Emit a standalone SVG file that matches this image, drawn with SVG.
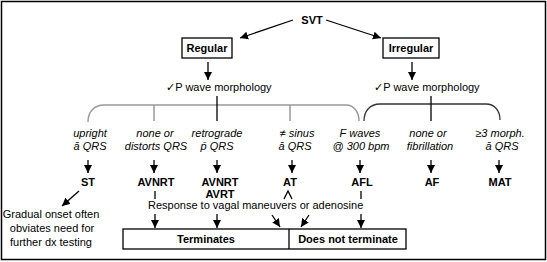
<svg xmlns="http://www.w3.org/2000/svg" width="547" height="262" viewBox="0 0 547 262">
<defs>
<marker id="ah" viewBox="0 0 10 10" refX="10" refY="5" markerUnits="userSpaceOnUse" markerWidth="8" markerHeight="9" orient="auto">
<path d="M0,0 L10,5 L0,10 z" fill="#000"/>
</marker>
</defs>
<style>
text{font-family:"Liberation Sans","DejaVu Sans",Arial,sans-serif;font-size:11px;fill:#000}
.b{font-weight:bold;text-anchor:middle}
.i{font-style:italic;text-anchor:middle}
.m{text-anchor:middle}
.ln{stroke:#000;stroke-width:1.3;fill:none}
.ar{stroke:#000;stroke-width:1.3;fill:none;marker-end:url(#ah)}
.box{fill:#fff;stroke:#000;stroke-width:1.3}
</style>
<rect x="1.5" y="1.5" width="544" height="258" fill="#fff" stroke="#000" stroke-width="1.5"/>

<g id="connectors">
<path class="ar" d="M293,20 L240,38"/>
<path class="ar" d="M326,20 L381,38"/>
<path class="ar" d="M208,62 L208,80"/>
<path class="ar" d="M412,62 L412,80"/>
<path d="M88,122 C88,112 94,105 104,105 L346,105 C354,105 359,112 359,121" fill="none" stroke="#999" stroke-width="1.5"/>
<path d="M154,105 V121 M290,105 V121" fill="none" stroke="#999" stroke-width="1.5"/>
<path class="ln" d="M217,96 V121"/>
<path d="M364,121 C364,111 370,104 380,104 L486,104 C494,104 500,110 500,120" fill="none" stroke="#333" stroke-width="1.3"/>
<path class="ln" d="M431,96 V121"/>
<path class="ar" d="M88,160 V173"/>
<path class="ar" d="M154,160 V173"/>
<path class="ar" d="M217,160 V173"/>
<path class="ar" d="M292,160 V173"/>
<path class="ar" d="M360,160 V173"/>
<path class="ar" d="M431,160 V173"/>
<path class="ar" d="M499,160 V173"/>
<path class="ar" d="M79,191 L62,206"/>
<path class="ln" d="M155,191 V199"/>
<path class="ln" d="M284,199 L288,191 L292,199"/>
<path class="ln" d="M361,191 V199"/>
<path class="ar" d="M155,214 V228"/>
<path class="ar" d="M217,214 V228"/>
<path class="ar" d="M272,215 L280,227"/>
<path class="ar" d="M309,215 L301,227"/>
<path class="ar" d="M361,214 V228"/>
</g>

<g id="svt"><text class="b" x="312" y="24">SVT</text></g>
<g id="regular"><rect class="box" x="182" y="38" width="50" height="20"/><text class="b" x="207" y="52">Regular</text></g>
<g id="irregular"><rect class="box" x="383" y="38" width="56" height="20"/><text class="b" x="411" y="52">Irregular</text></g>
<g id="pwave-left"><text x="166" y="91">✓P wave morphology</text></g>
<g id="pwave-right"><text x="374" y="91">✓P wave morphology</text></g>

<g id="c-upright"><text class="i" x="90" y="137">upright</text><text class="i" x="90" y="150">ā QRS</text></g>
<g id="c-none"><text class="i" x="155" y="137">none or</text><text class="i" x="156" y="150">distorts QRS</text></g>
<g id="c-retro"><text class="i" x="217" y="137">retrograde</text><text class="i" x="217" y="150">p̄ QRS</text></g>
<g id="c-sinus"><text class="i" x="297" y="137">≠ sinus</text><text class="i" x="295" y="150">ā QRS</text></g>
<g id="c-fwaves"><text class="i" x="360" y="137">F waves</text><text class="i" x="361" y="150">@ 300 bpm</text></g>
<g id="c-fib"><text class="i" x="428" y="137">none or</text><text class="i" x="430" y="150">fibrillation</text></g>
<g id="c-morph"><text class="i" x="500" y="137">≥3 morph.</text><text class="i" x="502" y="150">ā QRS</text></g>

<g id="st"><text class="b" x="88" y="186">ST</text></g>
<g id="avnrt1"><text class="b" x="156" y="186">AVNRT</text></g>
<g id="avnrt2"><text class="b" x="220" y="186">AVNRT</text><text class="b" x="220" y="198">AVRT</text></g>
<g id="at"><text class="b" x="290" y="186">AT</text></g>
<g id="afl"><text class="b" x="362" y="186">AFL</text></g>
<g id="af"><text class="b" x="432" y="186">AF</text></g>
<g id="mat"><text class="b" x="500" y="186">MAT</text></g>

<g id="gradual"><text class="m" x="51" y="218">Gradual onset often</text><text class="m" x="52" y="232">obviates need for</text><text class="m" x="51" y="246">further dx testing</text></g>
<g id="response"><text x="148" y="209">Response to vagal maneuvers or adenosine</text></g>

<g id="outcome">
<rect class="box" x="123" y="229" width="283" height="20"/>
<line x1="289" y1="229" x2="289" y2="249" stroke="#000" stroke-width="1.3"/>
<text class="b" x="206" y="243">Terminates</text>
<text class="b" x="348" y="243">Does not terminate</text>
</g>
</svg>
